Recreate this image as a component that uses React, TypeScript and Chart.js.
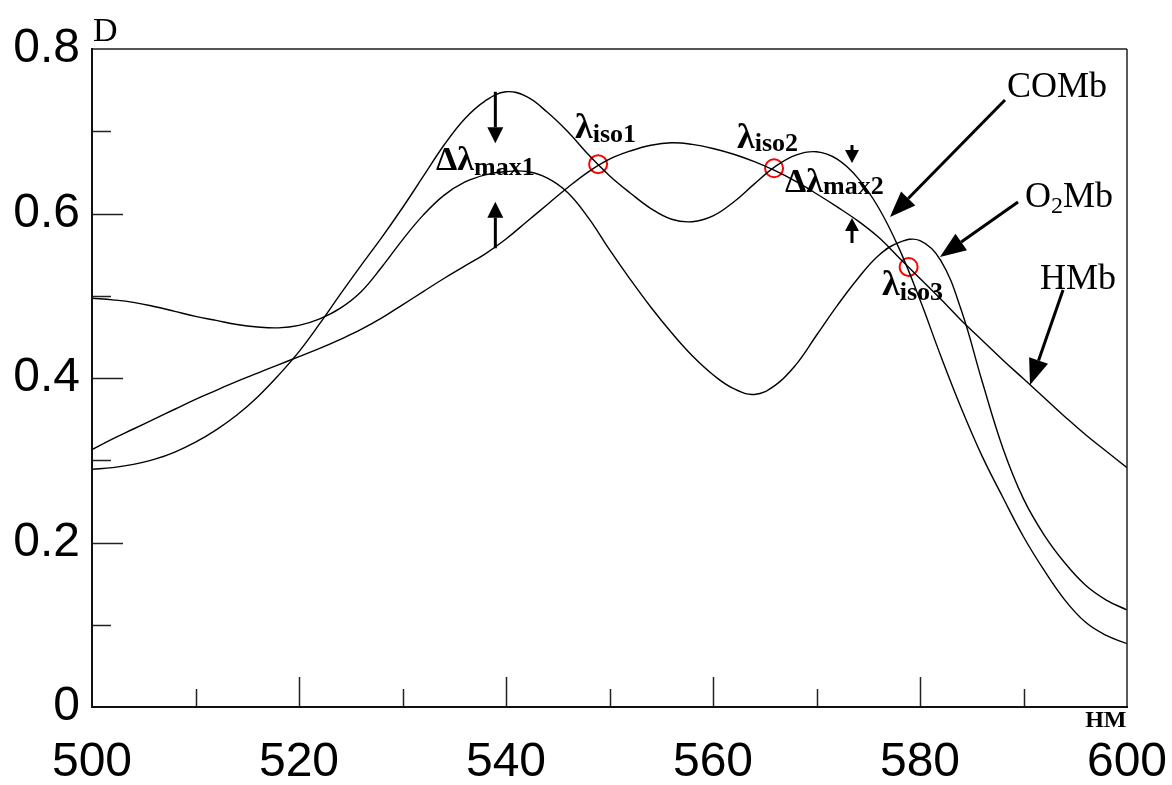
import React, { useEffect, useRef } from "react";
import { Chart, registerables } from "chart.js";

Chart.register(...registerables);

// ---- data (wavelength, nm) ----
const wavelengths = [
  500, 502, 504, 506, 508, 510, 512, 514, 516, 518, 520, 522, 524, 526, 528, 530, 532, 534, 536, 538,
  540, 542, 544, 546, 548, 550, 552, 554, 556, 558, 560, 562, 564, 566, 568, 570, 572, 574, 576, 578,
  580, 582, 584, 586, 588, 590, 592, 594, 596, 598, 600,
];

const comb = [
  0.289, 0.291, 0.295, 0.301, 0.31, 0.322, 0.337, 0.355, 0.377, 0.403, 0.432, 0.466, 0.502, 0.537, 0.571,
  0.607, 0.645, 0.683, 0.715, 0.737, 0.748, 0.742, 0.723, 0.699, 0.671, 0.646, 0.625, 0.606, 0.593, 0.59,
  0.597, 0.614, 0.636, 0.657, 0.671, 0.675, 0.666, 0.643, 0.607, 0.557, 0.495, 0.427, 0.363, 0.305, 0.255,
  0.207, 0.166, 0.13, 0.103, 0.087, 0.077,
];

const o2mb = [
  0.497, 0.495, 0.492, 0.487, 0.481, 0.475, 0.47, 0.465, 0.462, 0.461, 0.464, 0.472, 0.485, 0.505, 0.535,
  0.568, 0.598, 0.622, 0.638, 0.647, 0.651, 0.651, 0.643, 0.625, 0.594, 0.556, 0.52, 0.486, 0.455, 0.427,
  0.404, 0.387, 0.38, 0.391, 0.416, 0.452, 0.488, 0.521, 0.549, 0.565, 0.567, 0.543, 0.482, 0.396, 0.315,
  0.253, 0.209, 0.175, 0.148, 0.13, 0.118,
];

const hmb = [
  0.313, 0.326, 0.338, 0.35, 0.362, 0.374, 0.385, 0.396, 0.406, 0.416, 0.426, 0.436, 0.447, 0.459, 0.473,
  0.489, 0.505, 0.521, 0.536, 0.551, 0.569, 0.59, 0.611, 0.632, 0.651, 0.666, 0.676, 0.683, 0.686, 0.684,
  0.679, 0.672, 0.663, 0.652, 0.639, 0.624, 0.608, 0.591, 0.571, 0.546, 0.521, 0.496, 0.47, 0.446, 0.422,
  0.399, 0.376, 0.353, 0.331, 0.311, 0.291,
];

// isosbestic points
const isoWavelengths = [548.9, 565.9, 578.9];
const isoValues = [0.66, 0.655, 0.535];

// ticks
const xMajorTicks = [520, 540, 560, 580];
const xMinorTicks = [510, 530, 550, 570, 590];
const yMajorTicks = [0.2, 0.4, 0.6];
const yMinorTicks = [0.1, 0.3, 0.5, 0.7];

// arrows in data units, tip at the second point
const arrowStarts = [
  [538.97, 0.748],
  [538.97, 0.5577],
  [573.43, 0.6833],
  [573.43, 0.5641],
  [588.21, 0.738],
  [589.47, 0.614],
  [593.82, 0.507],
];
const arrowTips = [
  [538.97, 0.6854],
  [538.97, 0.6143],
  [573.43, 0.6614],
  [573.43, 0.5945],
  [577.1, 0.5957],
  [581.93, 0.5471],
  [590.63, 0.3915],
];
const arrowHeadSizes = [
  [16, 8],
  [16, 8],
  [13, 7],
  [13, 7],
  [26, 10],
  [26, 10],
  [26, 10],
];

const SERIF = '"Liberation Serif", "Times New Roman", serif';
const SANS = '"Liberation Sans", Arial, sans-serif';

type Part = { t: string; size: number; bold?: boolean; dy?: number };
const labelTexts: Part[][] = [
  [{ t: "Δλ", size: 34, bold: true }, { t: "max1", size: 26, bold: true, dy: 5 }],
  [{ t: "λ", size: 36, bold: true }, { t: "iso1", size: 26, bold: true, dy: 4 }],
  [{ t: "λ", size: 36, bold: true }, { t: "iso2", size: 26, bold: true, dy: 3 }],
  [{ t: "Δλ", size: 34, bold: true }, { t: "max2", size: 26, bold: true, dy: 2 }],
  [{ t: "λ", size: 36, bold: true }, { t: "iso3", size: 26, bold: true, dy: 5 }],
  [{ t: "COMb", size: 36 }],
  [{ t: "O", size: 36 }, { t: "2", size: 24, dy: 6 }, { t: "Mb", size: 36 }],
  [{ t: "HMb", size: 36 }],
  [{ t: "D", size: 34 }],
  [{ t: "HM", size: 24, bold: true }],
];
const labelPositions = [
  [533.24, 0.6529],
  [546.67, 0.6918],
  [562.32, 0.6796],
  [566.96, 0.6261],
  [576.33, 0.5009],
  [588.41, 0.7416],
  [590.14, 0.6079],
  [591.59, 0.5082],
  [500.1, 0.8097],
  [599.95, -0.0243],
];
const labelAlignRight = [false, false, false, false, false, false, false, false, false, true];

const toXY = (ys: number[]) => wavelengths.map((w, i) => ({ x: w, y: ys[i] }));

const overlayPlugin = {
  id: "overlay",
  afterDatasetsDraw(chart: any) {
    const { ctx, chartArea: a, scales } = chart;
    const xs = scales.x;
    const ys = scales.y;
    const px = (v: number) => xs.getPixelForValue(v);
    const py = (v: number) => ys.getPixelForValue(v);
    ctx.save();

    // ticks
    ctx.strokeStyle = "#222";
    ctx.lineWidth = 1.5;
    ctx.beginPath();
    yMajorTicks.forEach((v) => {
      const y = Math.round(py(v)) + 0.5;
      ctx.moveTo(a.left, y);
      ctx.lineTo(a.left + 31, y);
    });
    yMinorTicks.forEach((v) => {
      const y = Math.round(py(v)) + 0.5;
      ctx.moveTo(a.left, y);
      ctx.lineTo(a.left + 19, y);
    });
    xMajorTicks.forEach((v) => {
      const x = Math.round(px(v)) + 0.5;
      ctx.moveTo(x, a.bottom);
      ctx.lineTo(x, a.bottom - 30);
    });
    xMinorTicks.forEach((v) => {
      const x = Math.round(px(v)) + 0.5;
      ctx.moveTo(x, a.bottom);
      ctx.lineTo(x, a.bottom - 18);
    });
    ctx.stroke();

    // frame
    ctx.strokeStyle = "#555";
    ctx.lineWidth = 2;
    ctx.beginPath();
    ctx.moveTo(a.left, a.top);
    ctx.lineTo(a.right, a.top);
    ctx.stroke();
    ctx.strokeStyle = "#222";
    ctx.lineWidth = 1.5;
    ctx.beginPath();
    ctx.moveTo(a.right, a.top);
    ctx.lineTo(a.right, a.bottom);
    ctx.stroke();
    ctx.strokeStyle = "#111";
    ctx.lineWidth = 2;
    ctx.beginPath();
    ctx.moveTo(a.left, a.top - 1);
    ctx.lineTo(a.left, a.bottom);
    ctx.lineTo(a.right + 1, a.bottom);
    ctx.stroke();

    // arrows
    ctx.fillStyle = "#000";
    ctx.strokeStyle = "#000";
    ctx.lineWidth = 3;
    arrowStarts.forEach((s, i) => {
      const x0 = px(s[0]);
      const y0 = py(s[1]);
      const x1 = px(arrowTips[i][0]);
      const y1 = py(arrowTips[i][1]);
      const [hl, hw] = arrowHeadSizes[i];
      const ang = Math.atan2(y1 - y0, x1 - x0);
      const bx = x1 - hl * Math.cos(ang);
      const by = y1 - hl * Math.sin(ang);
      ctx.beginPath();
      ctx.moveTo(x0, y0);
      ctx.lineTo(bx, by);
      ctx.stroke();
      ctx.beginPath();
      ctx.moveTo(x1, y1);
      ctx.lineTo(bx + hw * Math.sin(ang), by - hw * Math.cos(ang));
      ctx.lineTo(bx - hw * Math.sin(ang), by + hw * Math.cos(ang));
      ctx.closePath();
      ctx.fill();
    });

    // labels
    ctx.textBaseline = "alphabetic";
    ctx.textAlign = "left";
    ctx.fillStyle = "#000";
    labelTexts.forEach((parts, i) => {
      const fontOf = (p: Part) => `${p.bold ? "bold " : ""}${p.size}px ${SERIF}`;
      let total = 0;
      parts.forEach((p) => {
        ctx.font = fontOf(p);
        total += ctx.measureText(p.t).width;
      });
      let x = px(labelPositions[i][0]);
      const y = py(labelPositions[i][1]);
      if (labelAlignRight[i]) x -= total;
      parts.forEach((p) => {
        ctx.font = fontOf(p);
        ctx.fillText(p.t, x, y + (p.dy || 0));
        x += ctx.measureText(p.t).width;
      });
    });

    ctx.restore();
  },
};

export default function App() {
  const ref = useRef<HTMLCanvasElement | null>(null);

  useEffect(() => {
    const canvas = ref.current;
    if (!canvas) return;
    const lineDs = (label: string, ys: number[]) => ({
      label,
      data: toXY(ys),
      borderColor: "#000",
      borderWidth: 1.4,
      pointRadius: 0,
      fill: false,
      tension: 0.4,
    });
    const chart = new Chart(canvas, {
      type: "line",
      data: {
        datasets: [
          lineDs("COMb", comb),
          lineDs("O2Mb", o2mb),
          lineDs("HMb", hmb),
          {
            type: "scatter",
            label: "iso",
            data: isoWavelengths.map((w, i) => ({ x: w, y: isoValues[i] })),
            showLine: false,
            pointRadius: 9,
            pointHoverRadius: 9,
            pointBorderColor: "#ff0000",
            pointBackgroundColor: "rgba(0,0,0,0)",
            pointBorderWidth: 2,
            borderColor: "#ff0000",
            backgroundColor: "rgba(0,0,0,0)",
          } as any,
        ],
      },
      options: {
        animation: false,
        responsive: false,
        maintainAspectRatio: false,
        devicePixelRatio: 1,
        events: [],
        layout: { padding: { left: 0, top: 49, right: 45, bottom: 0 } },
        plugins: {
          legend: { display: false },
          tooltip: { enabled: false },
          title: { display: false },
        },
        scales: {
          x: {
            type: "linear",
            min: 500,
            max: 600,
            grid: { display: false, drawTicks: false },
            border: { display: false },
            ticks: {
              stepSize: 20,
              padding: 27,
              color: "#000",
              maxRotation: 0,
              font: { family: SANS, size: 48 },
            },
            afterFit: (s: any) => {
              s.height = 78;
              s.paddingLeft = 0;
              s.paddingRight = 0;
            },
          },
          y: {
            type: "linear",
            min: 0,
            max: 0.8,
            grid: { display: false, drawTicks: false },
            border: { display: false },
            ticks: {
              stepSize: 0.2,
              padding: 12,
              color: "#000",
              font: { family: SANS, size: 48 },
              callback: (v: any) => String(Math.round(Number(v) * 10) / 10),
            },
            afterFit: (s: any) => {
              s.width = 92;
              s.paddingTop = 0;
              s.paddingBottom = 0;
            },
          },
        },
      },
      plugins: [overlayPlugin],
    });
    return () => chart.destroy();
  }, []);

  return (
    <div style={{ position: "absolute", left: 0, top: 0, width: 1172, height: 785, background: "#fff" }}>
      <canvas ref={ref} width={1172} height={785} style={{ width: 1172, height: 785, display: "block" }} />
    </div>
  );
}
